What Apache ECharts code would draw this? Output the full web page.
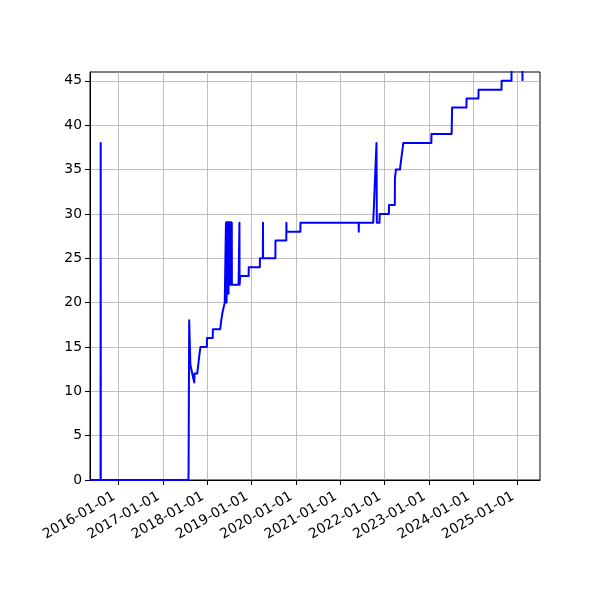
<!DOCTYPE html>
<html>
<head>
<meta charset="utf-8">
<script src="https://cdn.jsdelivr.net/npm/echarts@6/dist/echarts.min.js"></script>
<style>
  html, body { margin: 0; padding: 0; background: #fff; }
  #chart { width: 600px; height: 600px; }
</style>
</head>
<body>
<div id="chart"></div>
<script>
// values
const dates = [
  '2015-05-12', '2015-08-07', '2015-08-08', '2015-08-09',
  '2017-07-31', '2017-08-01', '2017-08-05', '2017-08-06', '2017-08-14', '2017-08-16',
  '2017-08-30', '2017-08-31', '2017-09-16', '2017-09-17', '2017-09-19', '2017-10-11',
  '2017-10-20', '2017-10-28', '2017-11-07', '2017-12-30', '2017-12-31', '2018-02-16',
  '2018-02-17', '2018-04-19', '2018-04-27', '2018-05-09', '2018-05-26',
  '2018-06-04', '2018-06-05', '2018-06-06', '2018-06-07', '2018-06-08', '2018-06-09',
  '2018-06-10', '2018-06-11', '2018-06-12', '2018-06-13', '2018-06-14', '2018-06-15',
  '2018-06-16', '2018-06-17', '2018-06-18', '2018-06-19', '2018-06-20', '2018-06-21',
  '2018-06-22', '2018-06-23', '2018-06-24', '2018-06-25', '2018-06-26', '2018-06-27',
  '2018-06-28', '2018-06-29', '2018-06-30', '2018-07-01', '2018-07-02', '2018-07-03',
  '2018-07-04', '2018-07-05', '2018-07-06', '2018-07-07', '2018-07-08', '2018-07-09',
  '2018-07-10', '2018-07-11', '2018-07-12', '2018-07-13', '2018-07-14', '2018-07-15',
  '2018-07-16', '2018-07-17', '2018-07-18', '2018-07-19', '2018-07-20', '2018-07-21',
  '2018-07-22', '2018-07-23', '2018-07-24', '2018-07-25',
  '2018-09-17', '2018-09-24', '2018-09-25', '2018-09-30', '2018-10-01', '2018-12-09',
  '2018-12-10', '2019-03-11', '2019-03-12', '2019-04-05', '2019-04-06', '2019-04-07',
  '2019-07-17', '2019-07-18', '2019-10-15', '2019-10-16', '2019-10-17', '2020-02-08',
  '2020-02-09', '2021-06-02', '2021-06-03', '2021-06-04', '2021-09-30', '2021-10-27',
  '2021-10-30', '2021-11-21', '2021-11-22', '2022-02-06', '2022-02-07', '2022-03-27',
  '2022-03-28', '2022-04-04', '2022-04-05', '2022-05-08', '2022-06-05', '2023-01-22',
  '2023-01-23', '2023-07-08', '2023-07-12', '2023-11-07', '2023-11-08', '2024-02-14',
  '2024-02-15', '2024-08-22', '2024-08-23', '2024-11-12', '2024-11-13', '2025-02-10',
  '2025-02-11'
];
const counts = [
  0, 0, 38, 0,
  0, 1, 1, 18, 18, 13,
  13, 12, 12, 11, 12, 12,
  13, 14, 15, 15, 16, 16,
  17, 17, 18, 19, 20,
  20, 29, 20, 29, 20, 29,
  20, 29, 21, 29, 21, 29,
  21, 29, 21, 29, 21, 29,
  21, 29, 22, 29, 21, 29,
  22, 29, 22, 29, 22, 29,
  22, 29, 22, 29, 22, 29,
  22, 29, 22, 29, 22, 29,
  22, 29, 22, 29, 22, 29,
  22, 29, 22, 22,
  22, 29, 22, 22, 23, 23,
  24, 24, 25, 25, 29, 25,
  25, 27, 27, 29, 28, 28,
  29, 29, 28, 29, 29, 38,
  29, 29, 30, 30, 31, 31,
  34, 34, 35, 35, 38, 38,
  39, 39, 42, 42, 43, 43,
  44, 44, 45, 45, 47, 47,
  45
];
const yearTicks = [
  '2016-01-01', '2017-01-01', '2018-01-01', '2019-01-01', '2020-01-01',
  '2021-01-01', '2022-01-01', '2023-01-01', '2024-01-01', '2025-01-01'
];
const yTicks = [0, 5, 10, 15, 20, 25, 30, 35, 40, 45];
const xRange = ['2015-05-12', '2025-07-05'];
const yRange = [0, 46];

// dates become plain millisecond values on a value axis, so the
// year ticks can be placed exactly on january 1st
const toTime = s => +echarts.time.parse(s);

const chart = echarts.init(document.getElementById('chart'), null, { renderer: 'canvas' });

const font = 'DejaVu Sans';
chart.setOption({
  animation: false,
  backgroundColor: '#fff',
  grid: {
    left: 90, right: 60, top: 72, bottom: 120,
    show: true, borderColor: '#000', borderWidth: 1, backgroundColor: 'transparent'
  },
  xAxis: {
    type: 'value',
    min: toTime(xRange[0]),
    max: toTime(xRange[1]),
    axisLine: { onZero: false, lineStyle: { color: '#000', width: 1 } },
    axisTick: { show: true, length: 5, customValues: yearTicks.map(toTime), lineStyle: { color: '#000' } },
    axisLabel: {
      customValues: yearTicks.map(toTime),
      rotate: 30,
      margin: 13,
      padding: [0, 5, 0, 0],
      color: '#000',
      fontFamily: font,
      fontSize: 13.9,
      formatter: v => echarts.time.format(v, '{yyyy}-{MM}-{dd}', false)
    },
    splitLine: { show: true, lineStyle: { color: '#b0b0b0', width: 0.8 } }
  },
  yAxis: {
    type: 'value',
    min: yRange[0],
    max: yRange[1],
    interval: 5,
    axisLine: { show: true, lineStyle: { color: '#000', width: 1 } },
    axisTick: { show: true, length: 5, customValues: yTicks, lineStyle: { color: '#000' } },
    axisLabel: {
      customValues: yTicks,
      margin: 8,
      color: '#000',
      fontFamily: font,
      fontSize: 13.9
    },
    splitLine: { show: true, lineStyle: { color: '#b0b0b0', width: 0.8 } }
  },
  series: [{
    type: 'line',
    data: dates.map((d, i) => [toTime(d), counts[i]]),
    showSymbol: false,
    symbol: 'none',
    clip: true,
    lineStyle: { color: '#0000ff', width: 2, join: 'round' },
    itemStyle: { color: '#0000ff' }
  }]
});
</script>
</body>
</html>
